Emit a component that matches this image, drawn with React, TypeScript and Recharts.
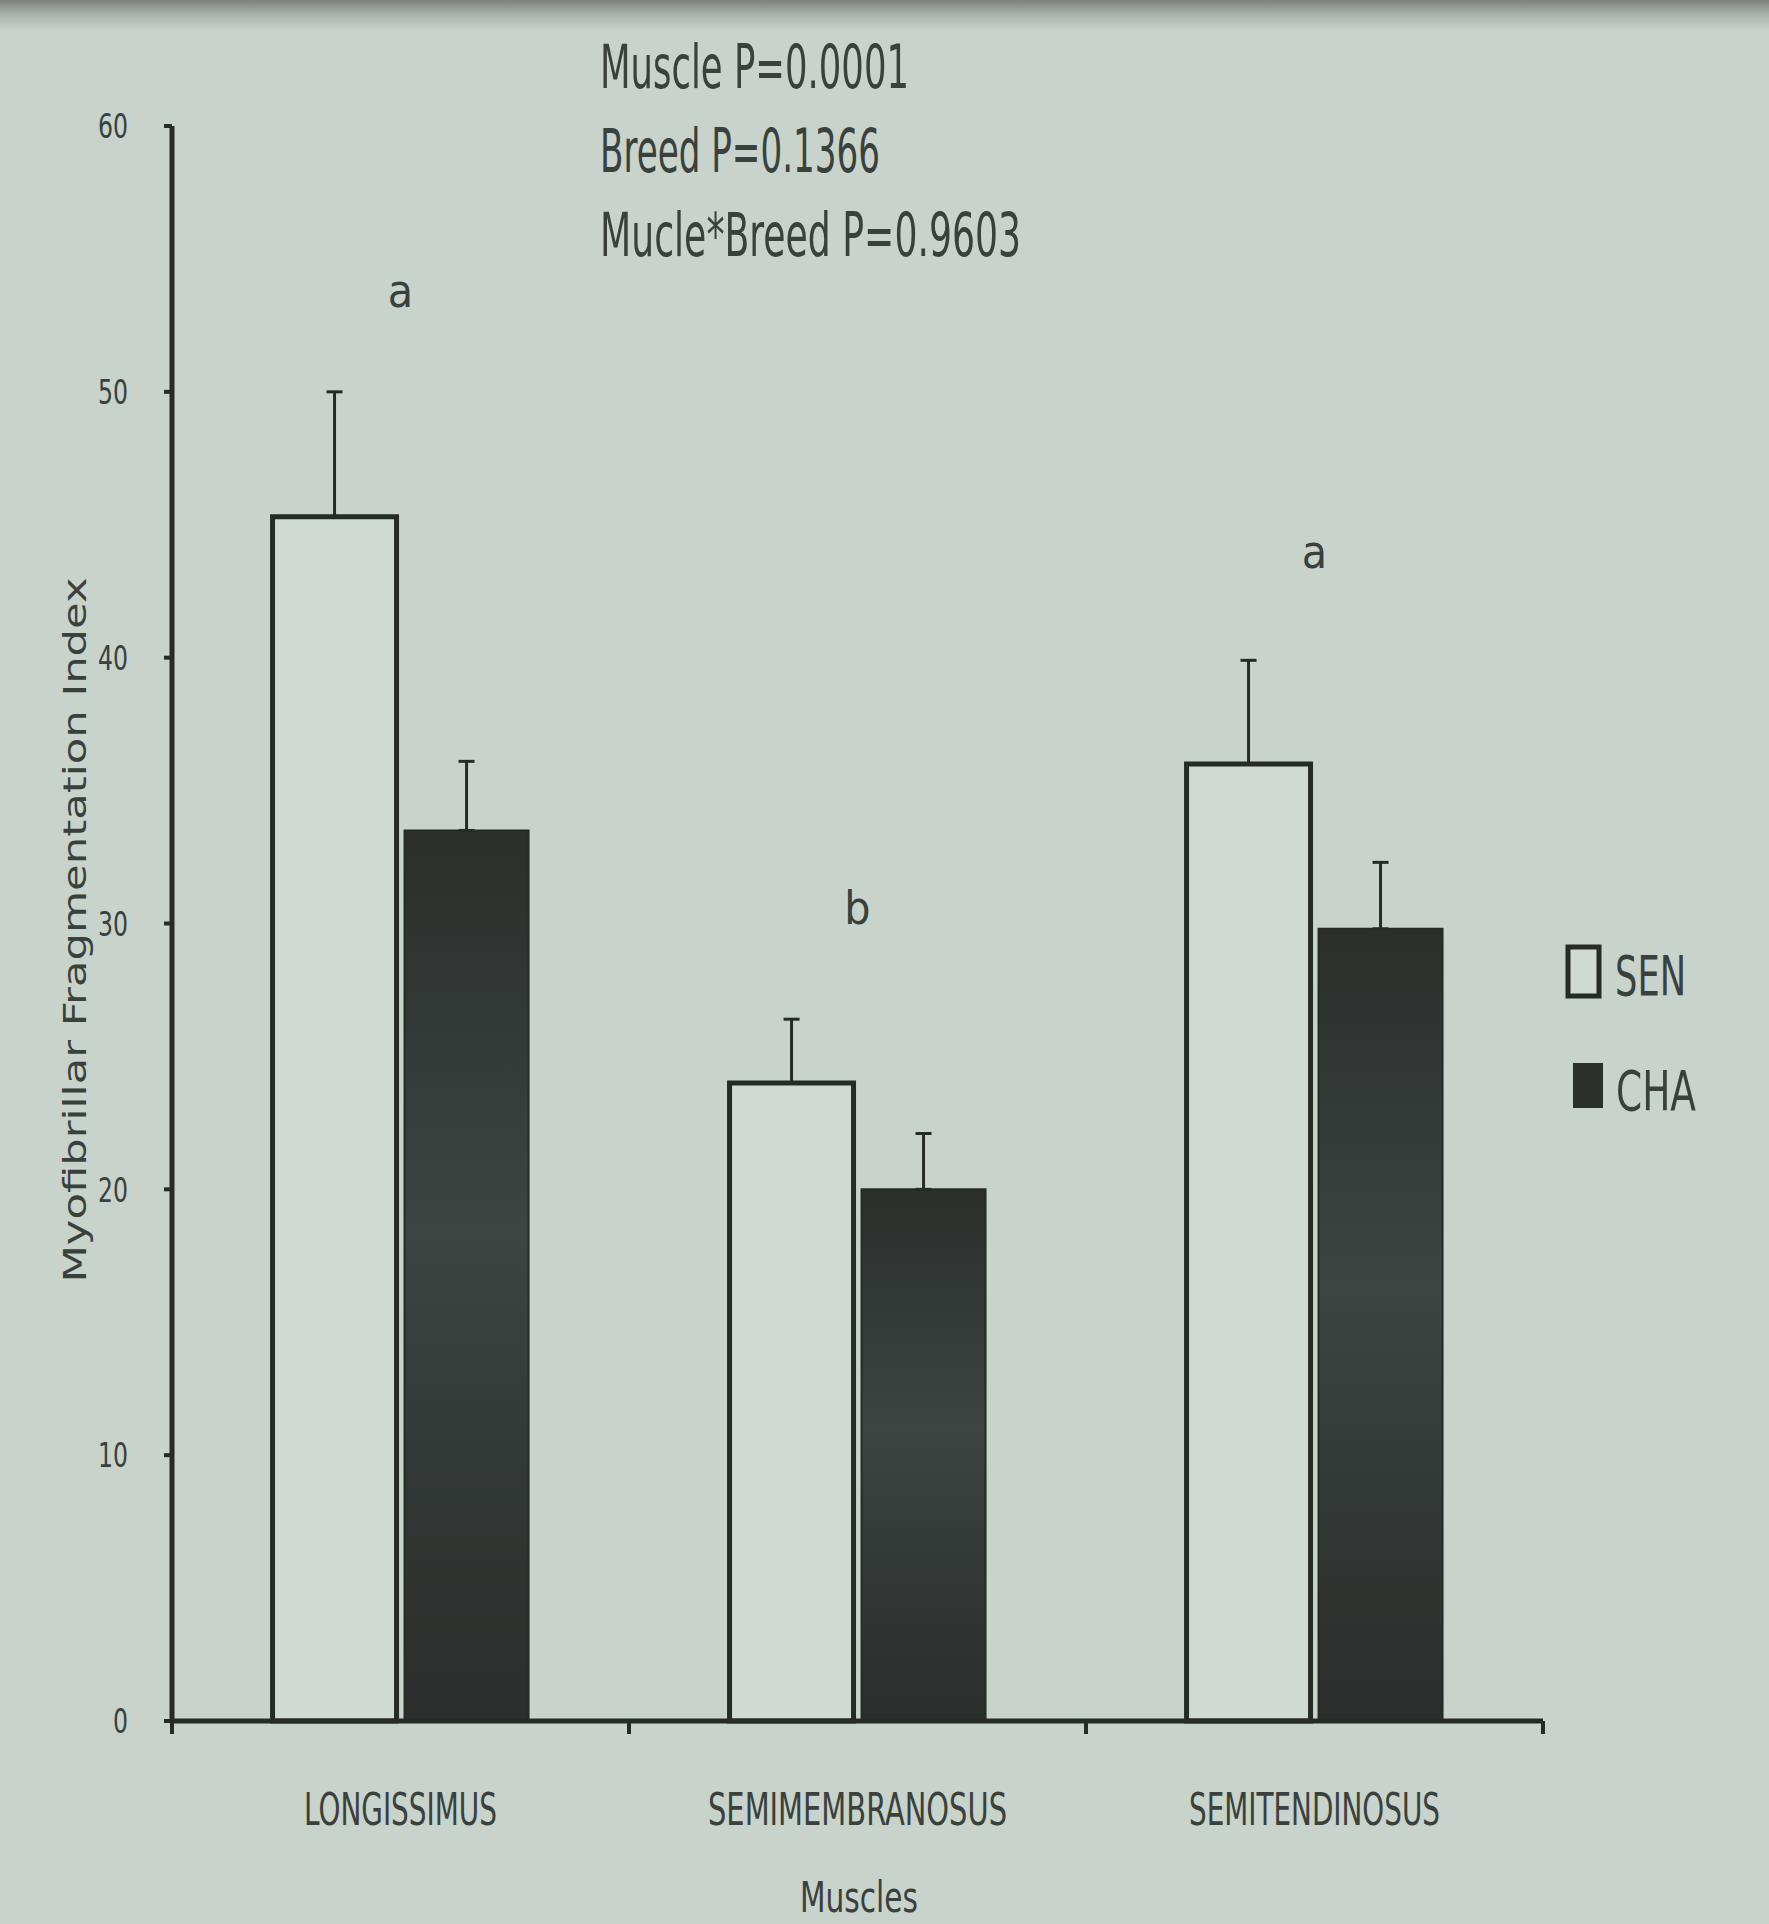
import React from "react";
import {
  BarChart,
  Bar,
  XAxis,
  YAxis,
  ErrorBar,
  ReferenceDot,
  Legend,
} from "recharts";

const muscles = ["LONGISSIMUS", "SEMIMEMBRANOSUS", "SEMITENDINOSUS"];
const senValues = [45.3, 24.0, 36.0];
const senErrors = [4.7, 2.4, 3.9];
const chaValues = [33.5, 20.0, 29.8];
const chaErrors = [2.6, 2.1, 2.5];
const groupLetters = ["a", "b", "a"];
const letterLevels = [53.8, 30.6, 44.0];
const yTicks = [0, 10, 20, 30, 40, 50, 60];
const stats = ["Muscle P=0.0001", "Breed P=0.1366", "Mucle*Breed P=0.9603"];

const data = muscles.map((m, i) => ({
  muscle: m,
  SEN: senValues[i],
  CHA: chaValues[i],
  senErr: [0, senErrors[i]],
  chaErr: [0, chaErrors[i]],
}));

const FONT = '"Liberation Sans Narrow", "DejaVu Sans Condensed", "Liberation Sans", sans-serif';
const INK = "#262b28";
const TEXT = "#3a403c";
const PAPER = "#c7d3cb";
const SEN_FILL = "#cfdad3";

// label widths in the photo are very condensed, so squeeze text to fit
const muscleWidth: Record<string, number> = {
  LONGISSIMUS: 193,
  SEMIMEMBRANOSUS: 299,
  SEMITENDINOSUS: 251,
};
const statWidth = [309, 280, 421];

// category labels, plus the small tick marks sitting on the category boundaries
function MuscleTick(props: any) {
  const { x, y, payload, index, visibleTicksCount } = props;
  const w = muscleWidth[payload.value] || 200;
  const half = payload.offset || 228.5;
  const last = index === visibleTicksCount - 1;
  return (
    <g>
      <line x1={x - half} y1={y} x2={x - half} y2={y + 13} stroke={INK} strokeWidth={4} />
      {last && <line x1={x + half} y1={y} x2={x + half} y2={y + 13} stroke={INK} strokeWidth={4} />}
      <text
        x={x}
        y={y + 104}
        textAnchor="middle"
        fontFamily={FONT}
        fontSize={44}
        fill={TEXT}
        textLength={w}
        lengthAdjust="spacingAndGlyphs"
      >
        {payload.value}
      </text>
    </g>
  );
}

function ValueTick(props: any) {
  const { x, y, payload } = props;
  const s = String(payload.value);
  return (
    <text
      x={x}
      y={y}
      dy="0.36em"
      textAnchor="end"
      fontFamily={FONT}
      fontSize={34}
      fill={TEXT}
      textLength={s.length * 15}
      lengthAdjust="spacingAndGlyphs"
    >
      {s}
    </text>
  );
}

function LegendBox() {
  return (
    <svg width={180} height={190}>
      <rect x={10} y={9} width={31} height={49} fill={SEN_FILL} stroke={INK} strokeWidth={5} />
      <text x={57} y={57} fontFamily={FONT} fontSize={56} fill={TEXT} textLength={71} lengthAdjust="spacingAndGlyphs">
        SEN
      </text>
      <rect x={15} y={125} width={30} height={45} fill="#2b302d" />
      <text x={58} y={172} fontFamily={FONT} fontSize={56} fill={TEXT} textLength={80} lengthAdjust="spacingAndGlyphs">
        CHA
      </text>
    </svg>
  );
}

export default function App() {
  return (
    <div
      style={{
        position: "absolute",
        left: 0,
        top: 0,
        width: 1769,
        height: 1924,
        overflow: "hidden",
        background: `linear-gradient(to bottom, #7b807d 0px, #a7b2ab 14px, ${PAPER} 30px, ${PAPER} 100%)`,
      }}
    >
      <BarChart
        width={1769}
        height={1924}
        data={data}
        margin={{ top: 126, right: 226, bottom: 83, left: 92 }}
        barCategoryGap="22%"
        barGap={8}
      >
        <defs>
          <linearGradient id="chaShade" x1="0" y1="0" x2="0" y2="1">
            <stop offset="0%" stopColor="#2a2f2c" />
            <stop offset="45%" stopColor="#3d4441" />
            <stop offset="70%" stopColor="#333936" />
            <stop offset="100%" stopColor="#2a2e2c" />
          </linearGradient>
        </defs>
        <XAxis
          dataKey="muscle"
          height={120}
          interval={0}
          tickSize={0}
          tickMargin={0}
          tickLine={false}
          axisLine={{ stroke: INK, strokeWidth: 5 }}
          tick={<MuscleTick />}
        />
        <YAxis
          width={80}
          domain={[0, 60]}
          ticks={yTicks}
          interval={0}
          tickSize={8}
          tickMargin={36}
          axisLine={{ stroke: INK, strokeWidth: 5 }}
          tickLine={{ stroke: INK, strokeWidth: 4 }}
          tick={<ValueTick />}
        />
        <Bar dataKey="SEN" fill={SEN_FILL} stroke={INK} strokeWidth={5} isAnimationActive={false}>
          <ErrorBar dataKey="senErr" direction="y" width={8} stroke={INK} strokeWidth={3} isAnimationActive={false} />
        </Bar>
        <Bar dataKey="CHA" fill="url(#chaShade)" stroke="#262a28" strokeWidth={2} isAnimationActive={false}>
          <ErrorBar dataKey="chaErr" direction="y" width={8} stroke={INK} strokeWidth={3} isAnimationActive={false} />
        </Bar>
        {groupLetters.map((l, i) => (
          <ReferenceDot
            key={i}
            x={muscles[i]}
            y={letterLevels[i]}
            r={0}
            fill="none"
            stroke="none"
            ifOverflow="visible"
            label={{ value: l, position: "center", fontSize: 46, fontFamily: FONT, fill: TEXT }}
          />
        ))}
        <Legend
          layout="horizontal"
          align="center"
          verticalAlign="middle"
          content={<LegendBox />}
          wrapperStyle={{ left: 1558, top: 938, width: 180, height: 190 }}
        />
      </BarChart>
      <svg
        width={1769}
        height={1924}
        style={{ position: "absolute", left: 0, top: 0, pointerEvents: "none" }}
      >
        {stats.map((s, i) => (
          <text
            key={s}
            x={600}
            y={88 + i * 84}
            fontFamily={FONT}
            fontSize={60}
            fill={TEXT}
            textLength={statWidth[i]}
            lengthAdjust="spacingAndGlyphs"
          >
            {s}
          </text>
        ))}
        <text
          transform="translate(86 930) rotate(-90)"
          textAnchor="middle"
          fontFamily={FONT}
          fontSize={32}
          fill={TEXT}
          textLength={705}
          lengthAdjust="spacingAndGlyphs"
        >
          Myofibrillar Fragmentation Index
        </text>
        <text
          x={859}
          y={1912}
          textAnchor="middle"
          fontFamily={FONT}
          fontSize={42}
          fill={TEXT}
          textLength={118}
          lengthAdjust="spacingAndGlyphs"
        >
          Muscles
        </text>
      </svg>
    </div>
  );
}
